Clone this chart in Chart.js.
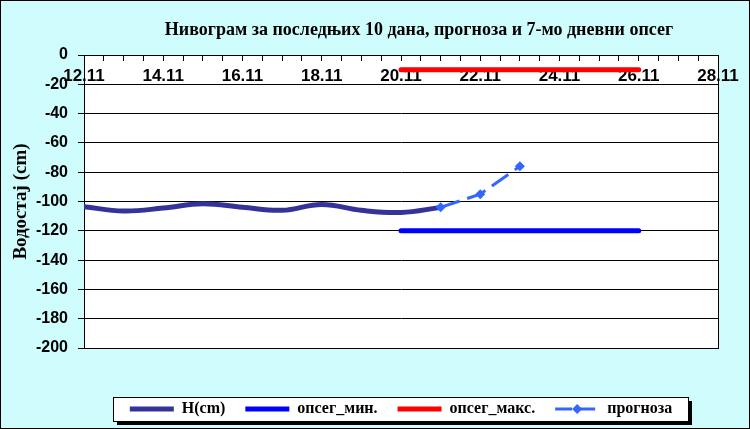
<!DOCTYPE html>
<html><head><meta charset="utf-8">
<script src="https://cdn.jsdelivr.net/npm/chart.js@4.4.1/dist/chart.umd.min.js"></script>
<style>html,body{margin:0;padding:0;background:#fff;}canvas{display:block;}</style>
</head><body>
<canvas id="c" width="750" height="429"></canvas>
<script>
const chartTitle = 'Нивограм за последњих 10 дана, прогноза и 7-мо дневни опсег';
const yTitle = 'Водостај (cm)';
const days = ['12.11','13.11','14.11','15.11','16.11','17.11','18.11','19.11','20.11','21.11','22.11','23.11','24.11','25.11','26.11','27.11','28.11'];
const levelH   = [-103.5,-106.5,-104.5,-101.5,-104,-106,-102,-106,-107.5,-104,null,null,null,null,null,null,null];
const rangeMin = [null,null,null,null,null,null,null,null,-120,-120,-120,-120,-120,-120,-120,null,null];
const rangeMax = [null,null,null,null,null,null,null,null,-10,-10,-10,-10,-10,-10,-10,null,null];
const forecast = [null,null,null,null,null,null,null,null,null,-104,-95,-76,null,null,null,null,null];
const seriesNames = ['H(cm)','опсег_мин.','опсег_макс.','прогноза'];
const yTicks = {min:-200, max:0, step:20};

const toPoints = arr => arr.map((y,i)=> y==null?null:{x:i,y:y}).filter(Boolean);

const bgPlugin = {
  id:'bg',
  beforeDraw(chart){
    const ctx = chart.ctx, a = chart.chartArea;
    ctx.save();
    ctx.fillStyle = '#CFFDFD';
    ctx.fillRect(0,0,chart.width,chart.height);
    ctx.strokeStyle = '#000'; ctx.lineWidth = 1;
    ctx.strokeRect(0.5,0.5,chart.width-1,chart.height-1);
    ctx.fillStyle = '#fff';
    ctx.fillRect(a.left,a.top,a.right-a.left,a.bottom-a.top);
    ctx.strokeRect(Math.round(a.left)+0.5,Math.round(a.top)+0.5,Math.round(a.right-a.left),Math.round(a.bottom-a.top));
    // legend frame
    const hb = chart.legend && chart.legend.legendHitBoxes;
    if (hb && hb.length){
      const first = hb[0], last = hb[hb.length-1];
      const cy = first.top + first.height/2;
      const L = Math.round(first.left - 17), R = Math.round(last.left + last.width + 16);
      const T = Math.round(cy - 12), B = Math.round(cy + 12);
      ctx.fillStyle = '#000';
      ctx.fillRect(L+4, T+4, R-L, B-T);
      ctx.fillStyle = '#fff';
      ctx.fillRect(L, T, R-L, B-T);
      ctx.strokeRect(L+0.5, T+0.5, R-L, B-T);
    }
    ctx.restore();
  },
  afterDraw(chart){
    const ctx = chart.ctx;
    ctx.save();
    ctx.fillStyle = '#000';
    ctx.font = 'bold 18px "Liberation Serif"';
    ctx.textAlign = 'center';
    ctx.textBaseline = 'middle';
    ctx.fillText(chartTitle, 419, 30);
    // diamond marker in legend for forecast
    const hb = chart.legend && chart.legend.legendHitBoxes;
    if (hb && hb.length===4){
      const b = hb[3];
      const cx = b.left + 22, cy = b.top + b.height/2;
      ctx.fillStyle = '#3366FF';
      ctx.beginPath();
      ctx.moveTo(cx, cy-5); ctx.lineTo(cx+5, cy); ctx.lineTo(cx, cy+5); ctx.lineTo(cx-5, cy); ctx.closePath();
      ctx.fill();
    }
    ctx.restore();
  }
};

new Chart(document.getElementById('c'), {
  type:'line',
  data:{
    datasets:[
      {label:seriesNames[0], data:toPoints(levelH), borderColor:'#333399', backgroundColor:'#333399', borderWidth:5, pointRadius:0, tension:0.4, borderCapStyle:'round'},
      {label:seriesNames[1], data:toPoints(rangeMin), borderColor:'#0000FF', backgroundColor:'#0000FF', borderWidth:5, pointRadius:0, tension:0, borderCapStyle:'round'},
      {label:seriesNames[2], data:toPoints(rangeMax), borderColor:'#FF0000', backgroundColor:'#FF0000', borderWidth:5, pointRadius:0, tension:0, borderCapStyle:'round'},
      {label:seriesNames[3], data:toPoints(forecast), borderColor:'#3366FF', backgroundColor:'#3366FF', borderWidth:3, borderDash:[20,8], pointStyle:'rectRot', pointRadius:5, pointBorderWidth:0, tension:0, order:-1}
    ]
  },
  options:{
    responsive:false,
    animation:false,
    devicePixelRatio:1,
    layout:{padding:{left:0,right:32,top:55,bottom:2}},
    plugins:{
      title:{display:false},
      tooltip:{enabled:false},
      legend:{
        position:'bottom',
        fullSize:false,
        title:{display:true, text:'', font:{size:10}, padding:{top:21,bottom:0}},
        labels:{
          usePointStyle:true,
          pointStyleWidth:44,
          padding:20,
          color:'#000',
          font:{family:'"Liberation Serif"', size:16, weight:'bold'},
          sort:(a,b)=>a.datasetIndex-b.datasetIndex,
          generateLabels(chart){
            const items = Chart.defaults.plugins.legend.labels.generateLabels(chart);
            items.forEach(it=>{
              it.pointStyle='line';
              it.lineCap='butt';
              if (it.datasetIndex===3){ it.lineDash=[17,6]; it.lineWidth=3; }
              else { it.lineWidth=5; }
            });
            return items;
          }
        }
      }
    },
    scales:{
      x:{
        type:'linear',
        position:{y:0},
        min:0, max:days.length-1,
        grid:{drawOnChartArea:false, drawTicks:true, tickLength:5, color:'#000'},
        border:{display:true, color:'#000'},
        ticks:{
          stepSize:0.5, autoSkip:false, maxRotation:0, padding:6, color:'#000',
          font:{family:'"Liberation Sans"', size:17, weight:'bold'},
          callback:(v)=> (Number.isInteger(v) && v%2===0) ? days[v] : ''
        }
      },
      y:{
        min:yTicks.min, max:yTicks.max,
        afterFit(scale){ scale.width = 84; },
        grid:{color:'#000', lineWidth:1, tickLength:6},
        border:{display:true, color:'#000'},
        ticks:{stepSize:yTicks.step, padding:10, color:'#000', font:{family:'"Liberation Sans"', size:16, weight:'bold'}},
        title:{display:true, text:yTitle, color:'#000', font:{family:'"Liberation Serif"', size:19, weight:'bold'}, padding:{top:10,bottom:0}}
      }
    }
  },
  plugins:[bgPlugin]
});
</script>
</body></html>
